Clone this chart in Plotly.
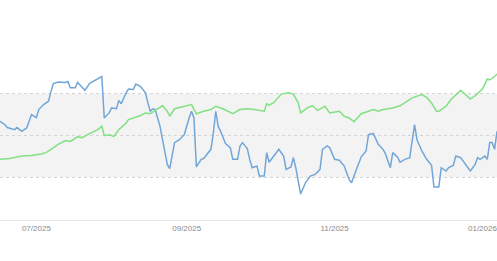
import plotly.graph_objects as go

blue_dates = ["2025-06-16","2025-06-18","2025-06-19","2025-06-20","2025-06-22","2025-06-23","2025-06-24","2025-06-25",
"2025-06-27","2025-06-28","2025-06-29","2025-07-01","2025-07-02","2025-07-04","2025-07-06","2025-07-07","2025-07-08",
"2025-07-10","2025-07-12","2025-07-13","2025-07-14","2025-07-15","2025-07-17","2025-07-18","2025-07-19","2025-07-21",
"2025-07-23","2025-07-25","2025-07-27","2025-07-28","2025-07-29","2025-07-31","2025-08-01","2025-08-03","2025-08-04",
"2025-08-05","2025-08-07","2025-08-08","2025-08-10","2025-08-11","2025-08-13","2025-08-15","2025-08-16","2025-08-17",
"2025-08-18","2025-08-19","2025-08-21","2025-08-22","2025-08-24","2025-08-25","2025-08-26","2025-08-27","2025-08-29",
"2025-08-31","2025-09-02","2025-09-03","2025-09-04","2025-09-05","2025-09-07","2025-09-08","2025-09-11","2025-09-12",
"2025-09-13","2025-09-14","2025-09-15","2025-09-17","2025-09-19","2025-09-20","2025-09-22","2025-09-23","2025-09-24",
"2025-09-26","2025-09-27","2025-09-28","2025-09-30","2025-10-01","2025-10-03","2025-10-04","2025-10-05","2025-10-07",
"2025-10-09","2025-10-11","2025-10-12","2025-10-14","2025-10-15","2025-10-16","2025-10-18","2025-10-20","2025-10-22",
"2025-10-24","2025-10-26","2025-10-27","2025-10-29","2025-10-30","2025-11-01","2025-11-03","2025-11-05","2025-11-07",
"2025-11-08","2025-11-10","2025-11-12","2025-11-14","2025-11-15","2025-11-17","2025-11-19","2025-11-21","2025-11-22",
"2025-11-24","2025-11-25","2025-11-27","2025-11-28","2025-11-30","2025-12-02","2025-12-04","2025-12-05","2025-12-07",
"2025-12-09","2025-12-11","2025-12-12","2025-12-14","2025-12-15","2025-12-17","2025-12-18","2025-12-20","2025-12-21",
"2025-12-23","2025-12-27","2025-12-29","2025-12-30","2025-12-31","2026-01-02","2026-01-03","2026-01-04","2026-01-05",
"2026-01-06","2026-01-07"]
blue_values = [0.34,0.26,0.19,0.17,0.14,0.19,0.14,0.10,
0.18,0.34,0.50,0.43,0.62,0.74,0.82,1.05,1.24,
1.28,1.28,1.27,1.29,1.14,1.14,1.27,1.21,1.08,
1.25,1.31,1.37,1.41,0.42,0.54,0.66,0.64,0.84,
0.76,1.02,1.11,1.10,1.23,1.17,1.02,0.78,0.58,
0.64,0.62,0.22,-0.10,-0.69,-0.79,-0.49,-0.17,-0.10,
0.02,0.42,0.58,0.42,-0.75,-0.57,-0.55,-0.33,0.06,
0.58,0.22,0.10,-0.19,-0.29,-0.57,-0.57,-0.25,-0.17,
-0.31,-0.57,-0.77,-0.73,-0.97,-0.97,-0.41,-0.64,-0.49,
-0.33,-0.49,-0.81,-0.75,-0.53,-0.77,-1.40,-1.13,-0.97,
-0.93,-0.81,-0.33,-0.25,-0.29,-0.57,-0.59,-0.73,-1.05,
-1.13,-0.81,-0.51,-0.37,0.02,0.05,-0.21,-0.33,-0.44,
-0.77,-0.41,-0.52,-0.64,-0.57,-0.53,0.26,-0.10,-0.37,
-0.57,-0.71,-1.23,-1.23,-0.77,-0.85,-0.77,-0.71,-0.49,
-0.53,-0.85,-0.69,-0.53,-0.57,-0.49,-0.57,-0.17,-0.17,
-0.33,0.10]

green_dates = ["2025-06-16","2025-06-20","2025-06-25","2025-06-29","2025-07-03","2025-07-05","2025-07-07","2025-07-10",
"2025-07-13","2025-07-15","2025-07-18","2025-07-20","2025-07-22","2025-07-24","2025-07-26","2025-07-28","2025-07-29",
"2025-07-31","2025-08-02","2025-08-04","2025-08-07","2025-08-08","2025-08-11","2025-08-13","2025-08-15","2025-08-17",
"2025-08-19","2025-08-21","2025-08-22","2025-08-24","2025-08-25","2025-08-27","2025-08-30","2025-09-01","2025-09-03",
"2025-09-05","2025-09-08","2025-09-11","2025-09-13","2025-09-16","2025-09-20","2025-09-23","2025-09-26","2025-09-29",
"2025-10-03","2025-10-04","2025-10-05","2025-10-07","2025-10-10","2025-10-13","2025-10-15","2025-10-17","2025-10-18",
"2025-10-21","2025-10-23","2025-10-25","2025-10-28","2025-10-30","2025-11-03","2025-11-05","2025-11-07","2025-11-09",
"2025-11-12","2025-11-15","2025-11-17","2025-11-19","2025-11-21","2025-11-23","2025-11-25","2025-11-28","2025-11-30",
"2025-12-03","2025-12-07","2025-12-09","2025-12-11","2025-12-13","2025-12-14","2025-12-17","2025-12-19","2025-12-22",
"2025-12-23","2025-12-25","2025-12-27","2025-12-29","2025-12-31","2026-01-01","2026-01-03","2026-01-04","2026-01-06",
"2026-01-07"]
green_values = [-0.57,-0.55,-0.49,-0.48,-0.44,-0.41,-0.33,-0.21,
-0.12,-0.14,-0.03,-0.05,0.02,0.08,0.13,0.22,0.00,
0.02,-0.02,0.14,0.30,0.38,0.44,0.48,0.54,0.52,
0.60,0.66,0.71,0.58,0.46,0.64,0.68,0.70,0.74,
0.52,0.58,0.62,0.70,0.64,0.52,0.62,0.64,0.62,
0.58,0.76,0.72,0.79,0.99,1.02,0.99,0.78,0.54,
0.67,0.71,0.60,0.70,0.54,0.58,0.46,0.42,0.33,
0.52,0.58,0.62,0.58,0.62,0.64,0.66,0.71,0.79,
0.90,0.98,0.91,0.78,0.58,0.58,0.70,0.86,1.03,
1.08,0.98,0.87,0.95,1.05,1.11,1.35,1.33,1.41,
1.47]

band_low, band_high = -1, 1
grid_values = [-1, 0, 1]
tick_dates = ["2025-07-01", "2025-09-01", "2025-11-01", "2026-01-01"]
tick_labels = ["07/2025", "09/2025", "11/2025", "01/2026"]

fig = go.Figure()
fig.add_hrect(y0=band_low, y1=band_high, fillcolor="#f3f3f3", line_width=0, layer="below")
fig.add_trace(go.Scatter(x=blue_dates, y=blue_values, mode="lines",
                         line=dict(color="#72a6d8", width=1.5), showlegend=False))
fig.add_trace(go.Scatter(x=green_dates, y=green_values, mode="lines",
                         line=dict(color="#82e082", width=1.5), showlegend=False))

fig.update_layout(
    width=497, height=261,
    margin=dict(l=0, r=0, t=0, b=41),
    paper_bgcolor="white", plot_bgcolor="white",
    xaxis=dict(type="date", range=["2025-06-16", "2026-01-07"],
               tickvals=tick_dates, ticktext=tick_labels,
               showgrid=False, zeroline=False, ticklabeloverflow="allow",
               showline=True, linecolor="#e6e6e6", linewidth=1,
               ticks="", tickfont=dict(family="Liberation Sans, Arial", size=8, color="#8a8a8a")),
    yaxis=dict(range=[-2.02, 3.24], tickvals=grid_values, showticklabels=False,
               showgrid=True, gridcolor="#d4d4d4", griddash="dot", gridwidth=1,
               zeroline=False, showline=False),
)
fig.write_html("out.html")
